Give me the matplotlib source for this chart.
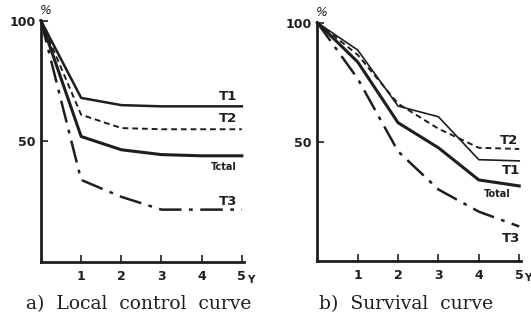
import matplotlib
matplotlib.use("Agg")
import matplotlib.pyplot as plt

# years 0..5
years = [0, 1, 2, 3, 4, 5]

# a) local control (%)
lc_t1 = [100, 68, 65, 64.5, 64.5, 64.5]
lc_t2 = [100, 61, 55.5, 55, 55, 55]
lc_total = [100, 52, 46.5, 44.5, 44, 44]
lc_t3 = [100, 34, 27, 21.7, 21.7, 21.7]

# b) survival (%)
sv_t1 = [100, 88.5, 65, 60.5, 42.5, 42]
sv_t2 = [100, 86.5, 66, 55.5, 47.5, 47]
sv_total = [100, 83.5, 58, 47.5, 34, 31.5]
sv_t3 = [100, 76.5, 46, 30, 20.7, 14.5]

xticks = [1, 2, 3, 4, 5]
xticklabels = ["1", "2", "3", "4", "5"]
yticks = [50, 100]
yticklabels = ["50", "100"]

INK = "#1e1e1e"
DASHDOT = (0, (9, 3, 1.5, 3))

fig = plt.figure(figsize=(5.31, 3.27), dpi=100)
ax_a = fig.add_axes([0.0772, 0.1988, 0.382, 0.738])
ax_b = fig.add_axes([0.5976, 0.2018, 0.384, 0.729])


def style_axes(ax):
    ax.set_xlim(0, 5.05)
    ax.set_ylim(0, 100)
    for s in ["top", "right"]:
        ax.spines[s].set_visible(False)
    for s in ["left", "bottom"]:
        ax.spines[s].set_linewidth(2.0)
        ax.spines[s].set_color(INK)
    ax.set_xticks(xticks)
    ax.set_xticklabels(xticklabels)
    ax.set_yticks(yticks)
    ax.set_yticklabels(yticklabels)
    ax.tick_params(direction="in", length=5, width=1.2, color=INK,
                   labelsize=9, labelcolor=INK)
    ax.tick_params(axis="y", pad=4)
    ax.tick_params(axis="x", pad=6)
    for lab in ax.get_xticklabels() + ax.get_yticklabels():
        lab.set_fontweight("bold")
    # "%" sign by the 100 mark and the "Y" unit after 5
    ax.text(-0.04, 101.5, "%", fontsize=9, color=INK, ha="left",
            va="bottom", style="italic", clip_on=False)
    ax.text(5.12, -5.2, "Y", fontsize=7.5, color=INK, ha="left",
            va="top", fontweight="bold", clip_on=False)


def lbl(ax, x, y, s, size=9.5):
    ax.text(x, y, s, fontsize=size, color=INK, ha="center", va="center",
            fontweight="bold")


# panel a
ax_a.plot(years, lc_t1, color=INK, lw=1.8, clip_on=False)
ax_a.plot(years, lc_t2, color=INK, lw=1.4, ls=(0, (3, 2)), clip_on=False)
ax_a.plot(years, lc_total, color=INK, lw=2.2, clip_on=False)
ax_a.plot(years, lc_t3, color=INK, lw=1.8, ls=DASHDOT, clip_on=False)
style_axes(ax_a)
lbl(ax_a, 4.65, 68.5, "T1")
lbl(ax_a, 4.65, 59.5, "T2")
lbl(ax_a, 4.55, 39.5, "Tctal", size=7)
lbl(ax_a, 4.65, 25, "T3")
fig.text(0.261, 0.07, "a)  Local  control  curve", fontsize=13.5,
         family="DejaVu Serif", color=INK, ha="center", va="center")

# panel b
ax_b.plot(years, sv_t1, color=INK, lw=1.2, clip_on=False)
ax_b.plot(years, sv_t2, color=INK, lw=1.4, ls=(0, (3, 2)), clip_on=False)
ax_b.plot(years, sv_total, color=INK, lw=2.2, clip_on=False)
ax_b.plot(years, sv_t3, color=INK, lw=1.8, ls=DASHDOT, clip_on=False)
style_axes(ax_b)
lbl(ax_b, 4.75, 50.5, "T2")
lbl(ax_b, 4.8, 38, "T1")
lbl(ax_b, 4.45, 28, "Total", size=7)
lbl(ax_b, 4.8, 9.5, "T3")
fig.text(0.765, 0.07, "b)  Survival  curve", fontsize=13.5,
         family="DejaVu Serif", color=INK, ha="center", va="center")

fig.savefig("out.png", dpi=100)
